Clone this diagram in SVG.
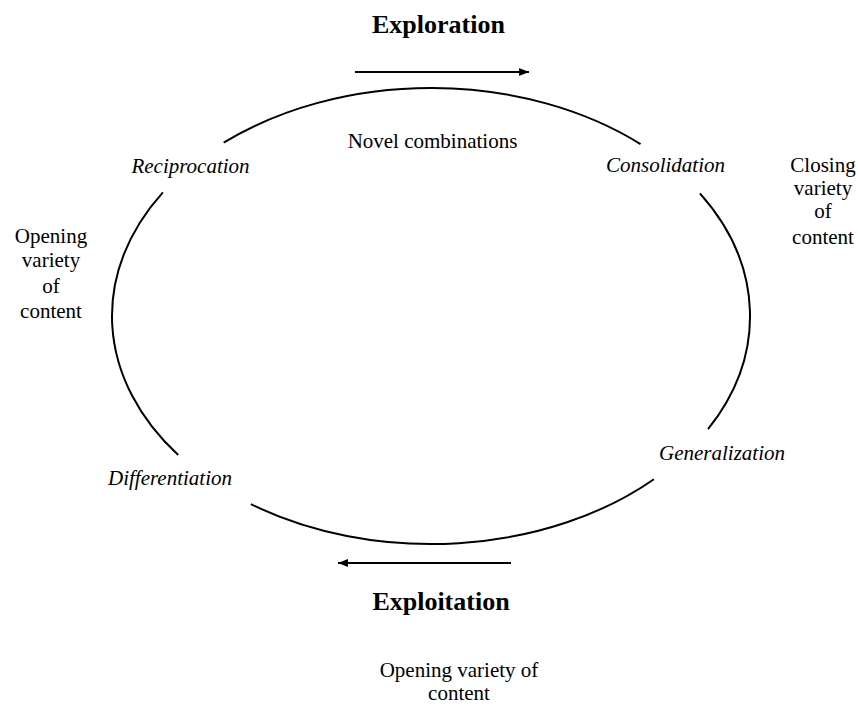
<svg xmlns="http://www.w3.org/2000/svg" width="858" height="708" viewBox="0 0 858 708">
<style>
text{font-family:"Liberation Serif","Times New Roman",serif;fill:#000}
.t{font-size:21px}
.i{font-size:21px;font-style:italic}
.b{font-size:26px;font-weight:bold}
.arc{fill:none;stroke:#000;stroke-width:2}
.ar{stroke:#000;stroke-width:2;fill:none}
</style>
<defs>
<marker id="ah" markerWidth="10" markerHeight="8" refX="10" refY="4" orient="auto" markerUnits="userSpaceOnUse">
<path d="M0,0 L10,4 L0,8 Z" fill="#000"/>
</marker>
</defs>
<rect width="858" height="708" fill="#fff"/>
<g id="connectors">
<path class="arc" d="M223.7,142.7 A319,228 0 0 1 640.5,144.1"/>
<path class="arc" d="M699.9,193.4 A319,228 0 0 1 708,429.2"/>
<path class="arc" d="M653.9,479.2 A319,228 0 0 1 250.9,504.2"/>
<path class="arc" d="M178.2,455 A319,228 0 0 1 162.9,192.4"/>
<line class="ar" x1="355" y1="72" x2="529" y2="72" marker-end="url(#ah)"/>
<line class="ar" x1="511" y1="563" x2="338" y2="563" marker-end="url(#ah)"/>
</g>
<g id="exploration"><text class="b" x="438.5" y="33" text-anchor="middle">Exploration</text></g>
<g id="novel"><text class="t" x="432.5" y="148" text-anchor="middle">Novel combinations</text></g>
<g id="reciprocation"><text class="i" x="190.5" y="173" text-anchor="middle">Reciprocation</text></g>
<g id="consolidation"><text class="i" x="665.5" y="172" text-anchor="middle">Consolidation</text></g>
<g id="closing"><text class="t" text-anchor="middle"><tspan x="823" y="172">Closing</tspan><tspan x="823" y="195">variety</tspan><tspan x="823" y="218">of</tspan><tspan x="823" y="244">content</tspan></text></g>
<g id="opening-left"><text class="t" text-anchor="middle"><tspan x="51" y="243">Opening</tspan><tspan x="51" y="267">variety</tspan><tspan x="51" y="293">of</tspan><tspan x="51" y="318">content</tspan></text></g>
<g id="differentiation"><text class="i" x="170" y="485" text-anchor="middle">Differentiation</text></g>
<g id="generalization"><text class="i" x="722" y="460" text-anchor="middle">Generalization</text></g>
<g id="exploitation"><text class="b" x="441" y="610" text-anchor="middle">Exploitation</text></g>
<g id="opening-bottom"><text class="t" text-anchor="middle"><tspan x="459" y="677">Opening variety of</tspan><tspan x="459" y="700">content</tspan></text></g>
</svg>
